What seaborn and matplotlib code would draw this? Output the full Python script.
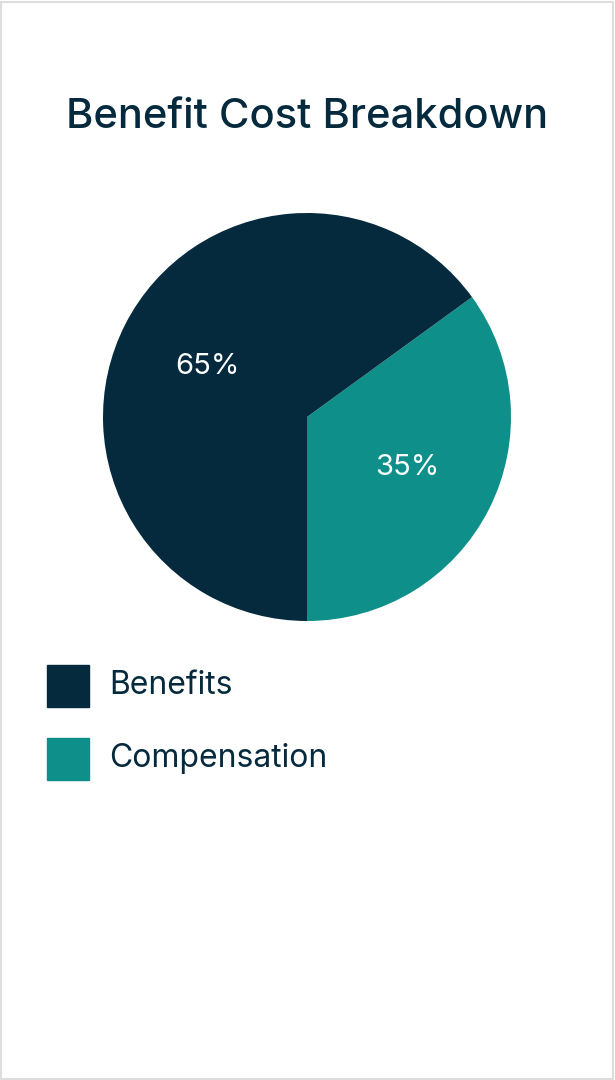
import matplotlib
matplotlib.use("Agg")
import matplotlib.pyplot as plt
import seaborn as sns
from matplotlib.patches import Rectangle

sns.set_theme(style="white")
plt.rcParams['font.family'] = ['Inter', 'DejaVu Sans']

labels = ['Compensation', 'Benefits']
values = [35, 65]
colors = ['#0e8f8a', '#052a3d']
legend_labels = ['Benefits', 'Compensation']
legend_colors = ['#052a3d', '#0e8f8a']

fig = plt.figure(figsize=(6.15, 10.8), dpi=100)
fig.patches.append(Rectangle((0.002, 0.001), 0.995, 0.997, transform=fig.transFigure,
                             fill=False, edgecolor='#dddddd', linewidth=1.5))

fig.text(0.5, 1 - 117 / 1080, 'Benefit Cost Breakdown', ha='center', va='center',
         fontsize=30, color='#052a3d', fontweight='medium')

# pie axes: centre (307, 417) px, radius ~204 px
r = 204
ax = fig.add_axes([(307 - r) / 615, 1 - (417 + r) / 1080, 2 * r / 615, 2 * r / 1080])
wedges, texts, autotexts = ax.pie(values, colors=colors, startangle=-90, counterclock=True,
                                  autopct='%d%%', pctdistance=0.55, radius=1,
                                  wedgeprops=dict(linewidth=0, edgecolor='none'),
                                  textprops=dict(color='white', fontsize=21))
ax.set_xlim(-1, 1)
ax.set_ylim(-1, 1)
ax.set_aspect('equal')

# legend
for i, (lab, col) in enumerate(zip(legend_labels, legend_colors)):
    y = 686 + i * 73
    fig.patches.append(Rectangle((47 / 615, 1 - (y + 21) / 1080), 42 / 615, 42 / 1080,
                                 transform=fig.transFigure, color=col))
    fig.text(109 / 615, 1 - y / 1080, lab, ha='left', va='center', fontsize=23, color='#052a3d')

fig.savefig('out.png', dpi=100)
